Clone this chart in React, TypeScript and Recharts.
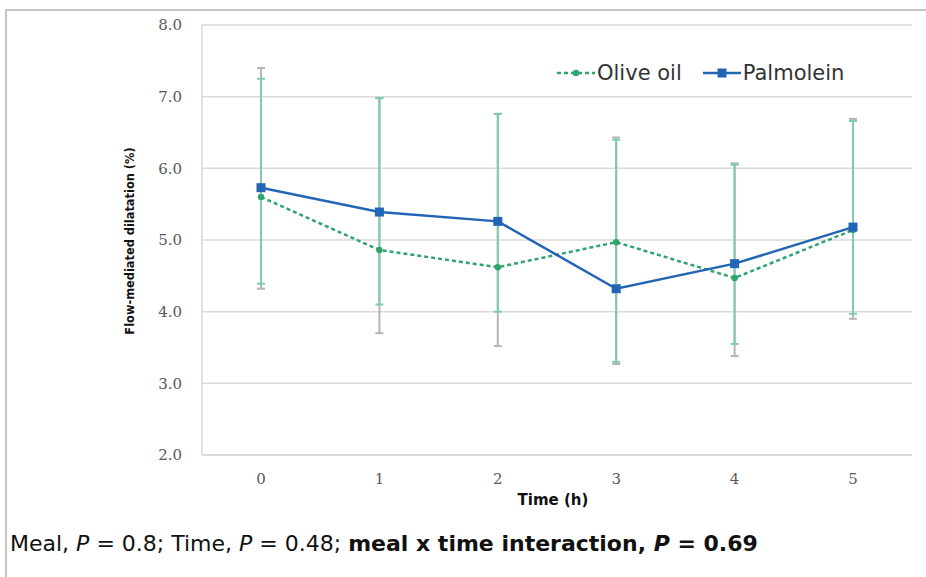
import { LineChart, Line, XAxis, YAxis, CartesianGrid, ErrorBar, Legend } from 'recharts';

const hours = ['0', '1', '2', '3', '4', '5'];
const oliveOil = [5.6, 4.86, 4.62, 4.97, 4.47, 5.14];
const palmolein = [5.73, 5.39, 5.26, 4.32, 4.67, 5.18];
// error bar ends (low, high)
const oliveLow = [4.32, 3.7, 3.52, 3.27, 3.38, 3.9];
const oliveHigh = [7.4, 6.98, 6.76, 6.43, 6.07, 6.69];
const palmLow = [4.39, 4.1, 4.0, 3.3, 3.55, 3.97];
const palmHigh = [7.25, 6.98, 6.76, 6.4, 6.05, 6.66];
const yTicks = [2, 3, 4, 5, 6, 7, 8];

const data = hours.map((h, i) => ({
  hour: h,
  olive: oliveOil[i],
  palm: palmolein[i],
  oliveErr: [oliveOil[i] - oliveLow[i], oliveHigh[i] - oliveOil[i]],
  palmErr: [palmolein[i] - palmLow[i], palmHigh[i] - palmolein[i]],
}));

const GREEN = '#2fa56e';
const BLUE = '#2265b5';
const SANS = 'DejaVu Sans, Verdana, sans-serif';

function SquareDot(props: any) {
  const { cx, cy, index } = props;
  if (cx == null || cy == null) return null;
  return <rect key={`sq-${index}`} x={cx - 4.5} y={cy - 4.5} width={9} height={9} fill={BLUE} />;
}

function LegendContent() {
  const items = [
    { name: 'Olive oil', color: GREEN, dashed: true },
    { name: 'Palmolein', color: BLUE, dashed: false },
  ];
  return (
    <div style={{ display: 'flex', alignItems: 'center', fontFamily: SANS, fontSize: 21, color: '#333' }}>
      {items.map((it) => (
        <div key={it.name} style={{ display: 'flex', alignItems: 'center', marginRight: 20 }}>
          <svg width={40} height={12} style={{ marginRight: 1 }}>
            <line x1={1} y1={6} x2={39} y2={6} stroke={it.color} strokeWidth={2.5} strokeDasharray={it.dashed ? '4 3' : undefined} />
            {it.dashed ? <circle cx={20} cy={6} r={3.2} fill={it.color} /> : <rect x={15.5} y={1.5} width={9} height={9} fill={it.color} />}
          </svg>
          <span>{it.name}</span>
        </div>
      ))}
    </div>
  );
}

export default function App() {
  return (
    <div style={{ position: 'absolute', left: 0, top: 0, width: 926, height: 577, background: '#fff', overflow: 'hidden' }}>
      <div style={{ position: 'absolute', left: 5, top: 9, right: 0, bottom: 0, borderTop: '2px solid #c4c4c4', borderLeft: '2px solid #c4c4c4' }} />
      <LineChart width={926} height={577} data={data} margin={{ top: 25, right: 14, bottom: 92, left: 140 }}>
        <CartesianGrid vertical={false} stroke="#d9d9d9" strokeWidth={1.5} />
        <XAxis
          dataKey="hour"
          height={30}
          padding={{ left: 59, right: 59 }}
          axisLine={{ stroke: '#d9d9d9', strokeWidth: 1.5 }}
          tickLine={false}
          tickMargin={12}
          tick={{ fill: '#595959', fontSize: 15, fontFamily: 'DejaVu Serif, serif' }}
        />
        <YAxis
          width={62}
          domain={[2, 8]}
          ticks={yTicks}
          tickFormatter={(v: number) => v.toFixed(1)}
          axisLine={{ stroke: '#d9d9d9', strokeWidth: 1.5 }}
          tickLine={false}
          tickMargin={14}
          tick={{ fill: '#595959', fontSize: 15, fontFamily: 'DejaVu Serif, serif' }}
        />
        <Legend
          layout="horizontal"
          verticalAlign="middle"
          align="center"
          content={<LegendContent />}
          wrapperStyle={{ top: 61, left: 556, width: 370 }}
        />
        <Line
          dataKey="olive"
          name="Olive oil"
          stroke={GREEN}
          strokeWidth={2.5}
          strokeDasharray="4 3"
          dot={{ r: 3.2, fill: GREEN, stroke: GREEN, strokeWidth: 0 }}
          isAnimationActive={false}
        >
          <ErrorBar dataKey="oliveErr" width={4} stroke="#b5b5b5" strokeWidth={2} direction="y" />
        </Line>
        <Line
          dataKey="palm"
          name="Palmolein"
          stroke={BLUE}
          strokeWidth={2.5}
          dot={<SquareDot />}
          isAnimationActive={false}
        >
          <ErrorBar dataKey="palmErr" width={4} stroke="#7fcab2" strokeWidth={2} direction="y" />
        </Line>
      </LineChart>
      <div
        style={{
          position: 'absolute',
          left: 130,
          top: 241,
          transform: 'translate(-50%, -50%) rotate(-90deg)',
          whiteSpace: 'nowrap',
          fontFamily: SANS,
          fontWeight: 'bold',
          fontSize: 11.4,
          color: '#111',
        }}
      >
        Flow-mediated dilatation (%)
      </div>
      <div
        style={{
          position: 'absolute',
          left: 553,
          top: 500,
          transform: 'translate(-50%, -50%)',
          whiteSpace: 'nowrap',
          fontFamily: SANS,
          fontWeight: 'bold',
          fontSize: 15,
          color: '#111',
        }}
      >
        Time (h)
      </div>
      <div
        style={{
          position: 'absolute',
          left: 10,
          top: 531,
          whiteSpace: 'nowrap',
          fontFamily: SANS,
          fontSize: 22,
          color: '#111',
        }}
      >
        Meal, <i>P</i> = 0.8; Time, <i>P</i> = 0.48; <b>meal x time interaction, <i>P</i> = 0.69</b>
      </div>
    </div>
  );
}
